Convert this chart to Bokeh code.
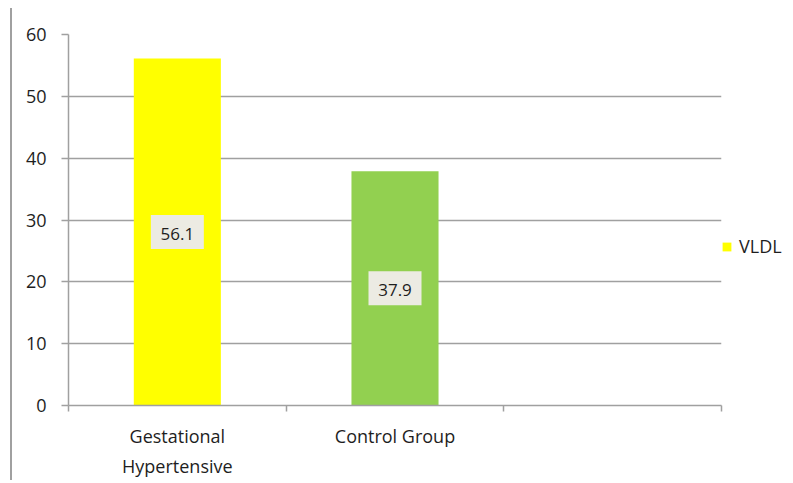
from bokeh.plotting import figure
from bokeh.models import (ColumnDataSource, FixedTicker, LinearAxis,
                          Legend, LegendItem, Range1d, Grid)
from bokeh.core.properties import value
from bokeh.embed import file_html
from bokeh.resources import INLINE

categories = ["Gestational\nHypertensive", "Control Group"]
values = [56.1, 37.9]
colors = ["#ffff00", "#92d050"]
series_name = "VLDL"
y_ticks = [0, 10, 20, 30, 40, 50, 60]

FONT = "Open Sans"
GRAY = "#a0a0a0"
TXT = "#1e1e1e"

xs = [i + 0.5 for i in range(len(categories))]
src = ColumnDataSource(dict(x=xs, top=values, mid=[v / 2 for v in values],
                            color=colors, lab=[f"{v:.1f}" for v in values]))

p = figure(frame_width=653, frame_height=371, output_backend="svg",
           toolbar_location=None, x_range=Range1d(0, 3), y_range=Range1d(0, 60),
           min_border_left=56, min_border_right=74, min_border_top=26,
           min_border_bottom=73, x_axis_type=None, y_axis_type=None)
p.styles = {"margin-left": "10px", "margin-top": "8px",
            "border-left": "2px solid #a0a0a0"}
p.outline_line_color = None
p.background_fill_color = "white"

g = Grid(dimension=1, ticker=FixedTicker(ticks=y_ticks), grid_line_color=GRAY,
         grid_line_width=1.5)
p.add_layout(g)

r = p.vbar(x="x", top="top", width=0.4, bottom=0, color="color", source=src,
           line_color=None)

p.rect(x="x", y="mid", width=53, height=34, width_units="screen",
       height_units="screen", fill_color="#ecebe3", line_color=None, source=src)
p.text(x="x", y="mid", text="lab", source=src, text_align="center",
       text_baseline="middle", text_font=value(FONT), text_font_size="17px",
       text_color=TXT, y_offset=2)

yax = LinearAxis(ticker=FixedTicker(ticks=y_ticks))
yax.axis_line_color = GRAY
yax.axis_line_width = 1.5
yax.major_tick_line_color = GRAY
yax.major_tick_line_width = 1.5
yax.major_tick_out = 7
yax.major_tick_in = 0
yax.minor_tick_line_color = None
yax.major_label_text_font = FONT
yax.major_label_text_font_size = "18px"
yax.major_label_text_color = TXT
yax.major_label_standoff = 15
p.add_layout(yax, "left")

xax = LinearAxis(ticker=FixedTicker(ticks=[0, 1, 2, 3]))
xax.axis_line_color = GRAY
xax.axis_line_width = 1.5
xax.major_tick_line_color = GRAY
xax.major_tick_line_width = 1.5
xax.major_tick_out = 6
xax.major_tick_in = 0
xax.minor_tick_line_color = None
xax.major_label_text_font_size = "0px"
xax.major_label_text_color = None
xax.major_label_standoff = 0
p.add_layout(xax, "below")

cax = LinearAxis(ticker=FixedTicker(ticks=xs),
                 major_label_overrides={x: c for x, c in zip(xs, categories)})
cax.axis_line_color = None
cax.major_tick_line_color = None
cax.minor_tick_line_color = None
cax.major_label_text_font = FONT
cax.major_label_text_font_size = "18px"
cax.major_label_text_color = TXT
cax.major_label_text_line_height = 1.25
cax.major_label_standoff = 6
p.add_layout(cax, "below")

legend = Legend(items=[LegendItem(label=series_name, renderers=[r], index=0)],
                location=(0, 147), border_line_color=None,
                background_fill_alpha=0, label_text_font=FONT,
                label_text_font_size="18px", label_text_color=TXT,
                glyph_width=11, glyph_height=11, padding=0, margin=0,
                label_standoff=7)
p.add_layout(legend, "right")

open("out.html", "w").write(file_html(p, INLINE))
